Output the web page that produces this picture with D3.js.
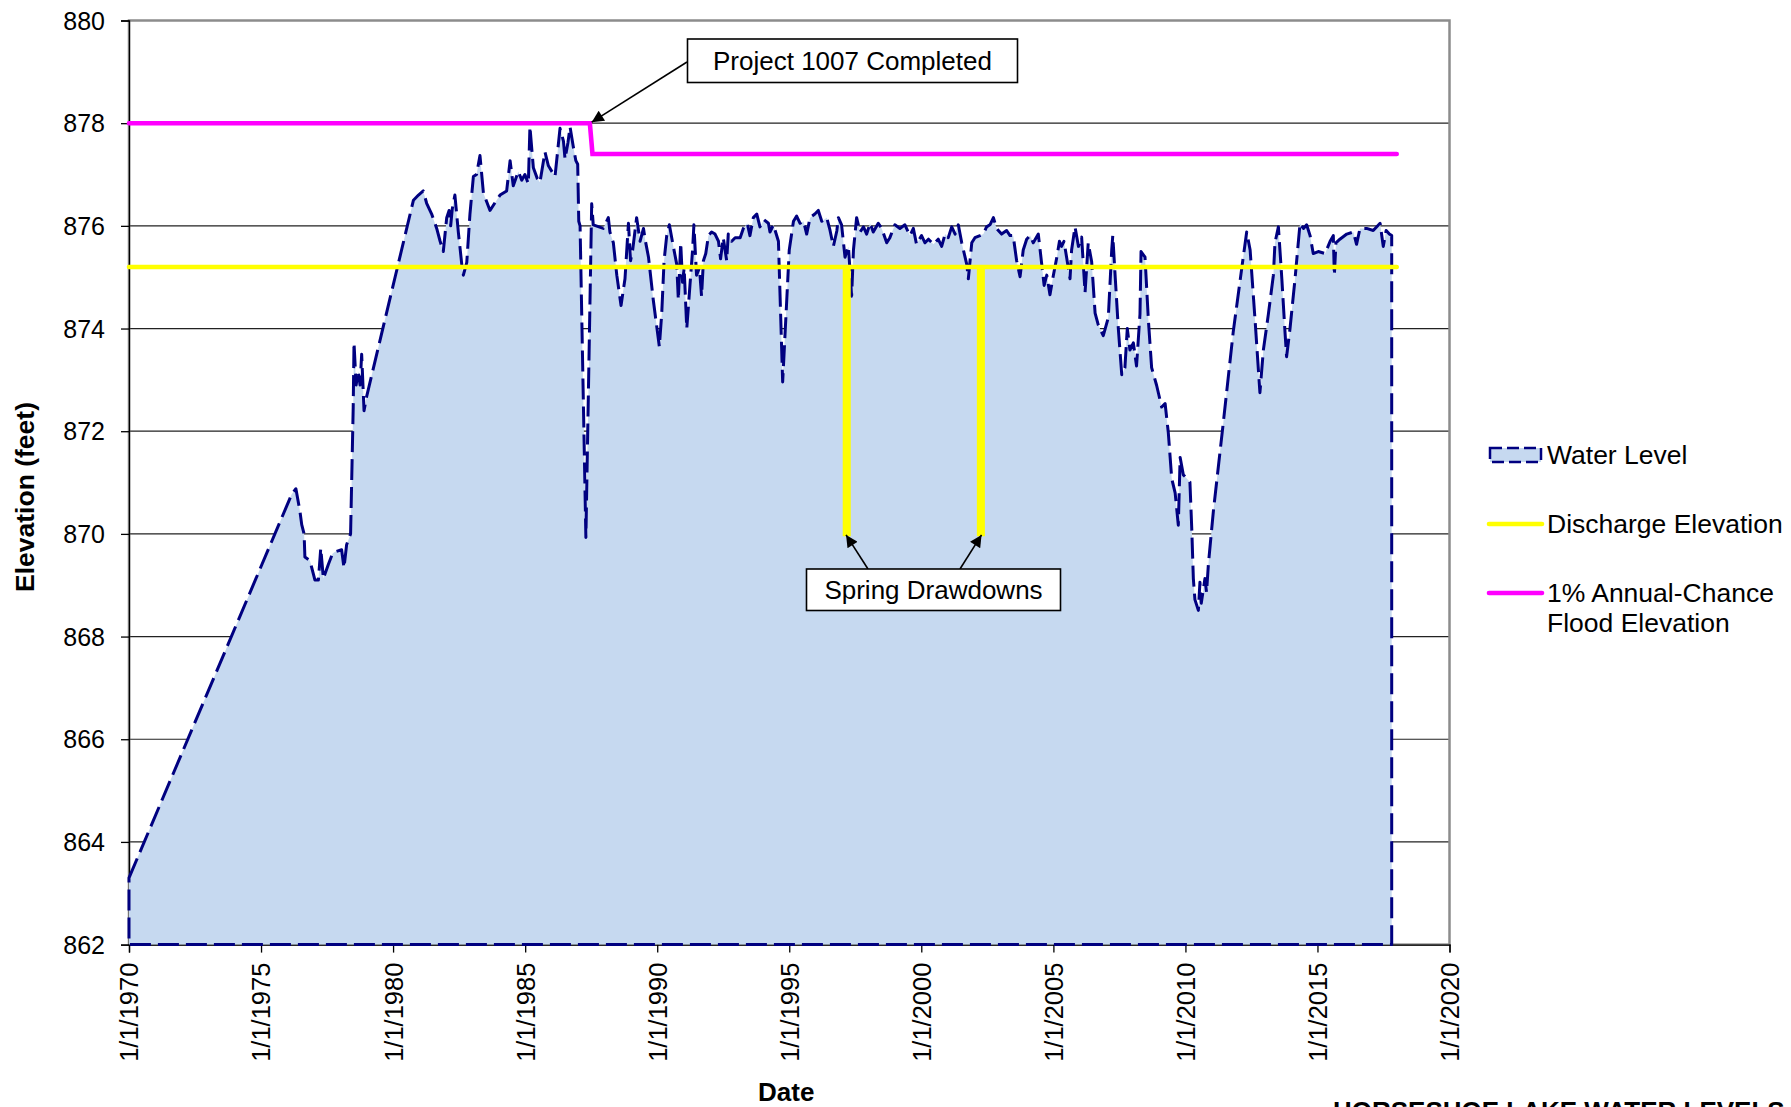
<!DOCTYPE html>
<html>
<head>
<meta charset="utf-8">
<script src="https://cdn.jsdelivr.net/npm/d3@7"></script>
<style>
  body { margin: 0; background: #fff; }
  svg { display: block; }
  text { font-family: "Liberation Sans", Arial, sans-serif; fill: #000; }
</style>
</head>
<body>
<svg></svg>
<script>
// Water level readings (decimal year, elevation in feet)
const waterYear = [
  1970.00, 1976.16, 1976.32, 1976.47, 1976.54, 1976.63, 1976.66, 1976.85, 1977.04, 1977.17,
  1977.26, 1977.36, 1977.55, 1977.71, 1977.80, 1978.05, 1978.14, 1978.24, 1978.39, 1978.49,
  1978.52, 1978.60, 1978.68, 1978.75, 1978.81, 1978.90, 1979.00, 1980.77, 1980.96, 1981.14,
  1981.27, 1981.46, 1981.65, 1981.78, 1981.90, 1982.03, 1982.12, 1982.18, 1982.24, 1982.34,
  1982.47, 1982.60, 1982.66, 1982.79, 1982.91, 1983.04, 1983.16, 1983.29, 1983.42, 1983.67,
  1983.92, 1984.05, 1984.30, 1984.43, 1984.55, 1984.74, 1984.87, 1984.99, 1985.12, 1985.18,
  1985.31, 1985.46, 1985.56, 1985.75, 1985.88, 1986.13, 1986.32, 1986.45, 1986.51, 1986.62,
  1986.70, 1986.82, 1986.92, 1986.99, 1987.03, 1987.08, 1987.30, 1987.52, 1987.58, 1987.96,
  1988.15, 1988.21, 1988.34, 1988.47, 1988.63, 1988.78, 1988.91, 1988.99, 1989.07, 1989.22,
  1989.35, 1989.48, 1989.54, 1989.67, 1989.85, 1990.08, 1990.17, 1990.26, 1990.36, 1990.46,
  1990.61, 1990.74, 1990.80, 1990.89, 1990.96, 1991.02, 1991.12, 1991.24, 1991.34, 1991.39,
  1991.49, 1991.60, 1991.68, 1991.75, 1991.84, 1991.94, 1992.06, 1992.19, 1992.32, 1992.40,
  1992.50, 1992.63, 1992.69, 1992.82, 1992.95, 1993.14, 1993.26, 1993.41, 1993.51, 1993.64,
  1993.77, 1993.89, 1994.04, 1994.21, 1994.27, 1994.40, 1994.59, 1994.75, 1995.00, 1995.16,
  1995.28, 1995.41, 1995.54, 1995.66, 1995.79, 1995.97, 1996.10, 1996.23, 1996.42, 1996.54,
  1996.67, 1996.80, 1996.86, 1996.98, 1997.11, 1997.24, 1997.36, 1997.43, 1997.55, 1997.68,
  1997.81, 1997.93, 1998.06, 1998.18, 1998.37, 1998.50, 1998.69, 1998.81, 1999.00, 1999.19,
  1999.38, 1999.57, 1999.70, 1999.82, 2000.01, 2000.14, 2000.27, 2000.46, 2000.64, 2000.77,
  2000.90, 2001.02, 2001.15, 2001.28, 2001.40, 2001.53, 2001.72, 2001.78, 2001.91, 2002.03,
  2002.22, 2002.35, 2002.47, 2002.60, 2002.73, 2002.85, 2003.04, 2003.23, 2003.36, 2003.48,
  2003.61, 2003.74, 2003.86, 2003.99, 2004.12, 2004.24, 2004.43, 2004.56, 2004.65, 2004.75,
  2004.87, 2005.00, 2005.13, 2005.23, 2005.31, 2005.40, 2005.50, 2005.63, 2005.69, 2005.82,
  2005.95, 2006.07, 2006.20, 2006.32, 2006.45, 2006.58, 2006.70, 2006.89, 2007.08, 2007.21,
  2007.25, 2007.33, 2007.46, 2007.59, 2007.71, 2007.80, 2007.90, 2008.03, 2008.15, 2008.28,
  2008.32, 2008.47, 2008.60, 2008.72, 2008.91, 2009.10, 2009.23, 2009.35, 2009.48, 2009.61,
  2009.73, 2009.80, 2009.92, 2010.05, 2010.17, 2010.24, 2010.30, 2010.36, 2010.49, 2010.55,
  2010.60, 2010.74, 2010.80, 2010.87, 2011.06, 2011.44, 2011.81, 2012.19, 2012.32, 2012.45,
  2012.64, 2012.82, 2012.95, 2013.14, 2013.33, 2013.39, 2013.52, 2013.65, 2013.77, 2013.83,
  2013.96, 2014.15, 2014.34, 2014.47, 2014.59, 2014.72, 2014.84, 2015.03, 2015.29, 2015.48,
  2015.60, 2015.64, 2015.70, 2015.85, 2016.11, 2016.36, 2016.48, 2016.61, 2016.86, 2017.11,
  2017.37, 2017.49, 2017.60, 2017.72, 2017.81
];
const waterLevel = [
  863.30, 870.77, 870.88, 870.45, 870.18, 870.00, 869.55, 869.48, 869.10, 869.10,
  869.72, 869.13, 869.41, 869.62, 869.65, 869.69, 869.34, 869.79, 870.00, 872.47,
  873.72, 872.90, 873.17, 872.90, 873.50, 872.40, 872.68, 876.50, 876.60, 876.68,
  876.44, 876.23, 875.95, 875.70, 875.50, 876.16, 876.30, 876.00, 876.33, 876.60,
  875.88, 875.25, 875.04, 875.29, 876.23, 876.96, 877.00, 877.37, 876.64, 876.30,
  876.50, 876.60, 876.68, 877.27, 876.78, 877.06, 876.89, 877.00, 876.82, 877.93,
  877.13, 876.92, 876.85, 877.44, 877.17, 876.96, 877.90, 877.65, 877.30, 877.62,
  877.93, 877.55, 877.27, 877.20, 876.09, 876.00, 869.93, 876.43, 876.02, 875.95,
  876.16, 875.88, 875.67, 875.04, 874.45, 874.97, 876.05, 875.32, 875.53, 876.16,
  875.70, 875.95, 875.74, 875.39, 874.56, 873.65, 874.28, 875.32, 875.81, 876.02,
  875.60, 875.25, 874.56, 875.67, 874.90, 875.18, 874.00, 874.84, 875.53, 876.02,
  875.04, 875.18, 874.63, 875.32, 875.46, 875.81, 875.88, 875.84, 875.70, 875.36,
  875.77, 875.32, 875.84, 875.70, 875.77, 875.77, 875.95, 876.05, 875.81, 876.16,
  876.23, 875.98, 876.12, 876.05, 875.88, 876.02, 875.70, 872.96, 875.53, 876.09,
  876.19, 876.05, 876.09, 875.84, 876.16, 876.23, 876.30, 876.09, 876.16, 875.92,
  875.60, 875.90, 876.16, 876.02, 875.39, 875.60, 874.63, 875.53, 876.16, 875.88,
  875.98, 875.84, 876.05, 875.88, 876.05, 875.95, 875.67, 875.77, 876.02, 875.95,
  876.02, 875.81, 875.95, 875.64, 875.81, 875.67, 875.74, 875.64, 875.74, 875.60,
  875.84, 875.77, 875.98, 875.84, 876.02, 875.67, 875.25, 874.97, 875.67, 875.77,
  875.81, 875.84, 875.98, 876.02, 876.16, 875.95, 875.84, 875.91, 875.81, 875.81,
  875.32, 875.01, 875.53, 875.74, 875.81, 875.67, 875.84, 875.25, 874.84, 875.04,
  874.66, 875.04, 875.39, 875.70, 875.60, 875.70, 875.39, 874.97, 875.53, 875.98,
  875.60, 875.78, 874.70, 875.67, 875.30, 874.30, 874.07, 873.86, 874.21, 875.53,
  875.81, 875.11, 874.00, 873.10, 873.24, 874.00, 873.58, 873.72, 873.27, 874.28,
  875.50, 875.39, 874.14, 873.24, 872.89, 872.47, 872.54, 871.98, 871.08, 870.80,
  870.17, 871.49, 871.15, 871.08, 871.01, 870.10, 869.13, 868.72, 868.51, 869.06,
  868.65, 869.13, 868.86, 869.41, 870.45, 872.19, 873.93, 875.39, 875.88, 875.53,
  874.14, 872.75, 873.58, 874.28, 875.04, 875.67, 875.98, 874.97, 873.93, 873.45,
  874.00, 874.97, 876.05, 875.95, 876.02, 875.81, 875.46, 875.50, 875.46, 875.70,
  875.81, 875.04, 875.67, 875.74, 875.84, 875.88, 875.64, 875.95, 875.95, 875.91,
  876.05, 875.60, 875.91, 875.84, 875.81
];

// Discharge elevation (with the two spring drawdowns)
const dischargeYear = [1970, 1997.11, 1997.11, 1997.24, 1997.24, 2002.19, 2002.19, 2002.32, 2002.32, 2018];
const dischargeLevel = [875.2, 875.2, 870, 870, 875.2, 875.2, 870, 870, 875.2, 875.2];

// 1% annual-chance flood elevation
const floodYear = [1970, 1987.45, 1987.55, 2018];
const floodLevel = [878, 878, 877.4, 877.4];

const yTicks = [862, 864, 866, 868, 870, 872, 874, 876, 878, 880];
const xTickYears = [1970, 1975, 1980, 1985, 1990, 1995, 2000, 2005, 2010, 2015, 2020];

const width = 1791;
const height = 1107;
const plot = { left: 129, right: 1449.5, top: 20.5, bottom: 944.6 };

function toDate(y) {
  const yr = Math.floor(y);
  const a = Date.UTC(yr, 0, 1), b = Date.UTC(yr + 1, 0, 1);
  return new Date(a + (y - yr) * (b - a));
}

const svg = d3.select("svg").attr("width", width).attr("height", height);

const x = d3.scaleUtc()
  .domain([toDate(1970), toDate(2020)])
  .range([plot.left, plot.right]);
const y = d3.scaleLinear()
  .domain([862, 880])
  .range([plot.bottom, plot.top]);

const water = waterYear.map((d, i) => ({ date: toDate(d), v: waterLevel[i] }));
const discharge = dischargeYear.map((d, i) => ({ date: toDate(d), v: dischargeLevel[i] }));
const flood = floodYear.map((d, i) => ({ date: toDate(d), v: floodLevel[i] }));

// arrow marker
svg.append("defs").append("marker")
  .attr("id", "arrow")
  .attr("viewBox", "0 0 10 10")
  .attr("refX", 10).attr("refY", 5)
  .attr("markerUnits", "userSpaceOnUse")
  .attr("markerWidth", 16).attr("markerHeight", 12)
  .attr("orient", "auto")
  .append("path").attr("d", "M0,0 L10,5 L0,10 z").attr("fill", "#000");

// gridlines
svg.append("g")
  .selectAll("line")
  .data(yTicks.filter(t => t > 862 && t < 880))
  .join("line")
  .attr("x1", plot.left).attr("x2", plot.right)
  .attr("y1", d => y(d)).attr("y2", d => y(d))
  .attr("stroke", "#222").attr("stroke-width", 1.2);

// plot border
svg.append("rect")
  .attr("x", plot.left).attr("y", plot.top)
  .attr("width", plot.right - plot.left).attr("height", plot.bottom - plot.top)
  .attr("fill", "none").attr("stroke", "#8c8c8c").attr("stroke-width", 2.5);

// axes
const yAxis = svg.append("g").attr("transform", `translate(${plot.left},0)`)
  .call(d3.axisLeft(y).tickValues(yTicks).tickSize(8).tickFormat(d3.format("d")));
yAxis.select(".domain").attr("stroke", "#000").attr("stroke-width", 1.3);
yAxis.selectAll(".tick line").attr("stroke", "#000").attr("stroke-width", 1.3);
yAxis.selectAll(".tick text")
  .attr("x", -24).attr("dy", "0.35em")
  .style("font-size", "25px").style("font-family", '"Liberation Sans", Arial, sans-serif');

const xAxis = svg.append("g").attr("transform", `translate(0,${plot.bottom})`)
  .call(d3.axisBottom(x).tickValues(xTickYears.map(toDate)).tickSize(8)
    .tickFormat(d => "1/1/" + d.getUTCFullYear()));
xAxis.select(".domain").attr("stroke", "#000").attr("stroke-width", 1.3);
xAxis.selectAll(".tick line").attr("stroke", "#000").attr("stroke-width", 1.3);
xAxis.selectAll(".tick text")
  .attr("transform", "translate(0,18) rotate(-90)")
  .attr("x", 0).attr("y", 0).attr("dy", "0.35em")
  .attr("text-anchor", "end")
  .style("font-size", "25.5px").style("font-family", '"Liberation Sans", Arial, sans-serif');

// water level area
const area = d3.area()
  .x(d => x(d.date))
  .y0(y(862))
  .y1(d => y(d.v));
svg.append("path")
  .datum(water)
  .attr("d", area)
  .attr("fill", "#c6d9f0")
  .attr("stroke", "#000080")
  .attr("stroke-width", 3)
  .attr("stroke-dasharray", "21,7")
  .attr("stroke-linejoin", "round");

const line = d3.line().x(d => x(d.date)).y(d => y(d.v));

svg.append("path")
  .datum(discharge)
  .attr("d", line)
  .attr("fill", "none")
  .attr("stroke", "#ffff00")
  .attr("stroke-width", 4.6)
  .attr("stroke-linecap", "round");

svg.append("path")
  .datum(flood)
  .attr("d", line)
  .attr("fill", "none")
  .attr("stroke", "#ff00ff")
  .attr("stroke-width", 4.6)
  .attr("stroke-linecap", "round");

// annotations
function box(x0, y0, w, h, label) {
  svg.append("rect").attr("x", x0).attr("y", y0).attr("width", w).attr("height", h)
    .attr("fill", "#fff").attr("stroke", "#000").attr("stroke-width", 1.6);
  svg.append("text").attr("x", x0 + w / 2).attr("y", y0 + h / 2).attr("dy", "0.35em")
    .attr("text-anchor", "middle").style("font-size", "26px").text(label);
}
function arrow(x1, y1, x2, y2) {
  svg.append("line").attr("x1", x1).attr("y1", y1).attr("x2", x2).attr("y2", y2)
    .attr("stroke", "#000").attr("stroke-width", 1.6).attr("marker-end", "url(#arrow)");
}

arrow(687, 62, x(toDate(1987.52)), y(878) - 1);
box(687.5, 39, 330, 43.5, "Project 1007 Completed");

arrow(868, 569, x(toDate(1997.15)), y(870) + 1);
arrow(960, 569, x(toDate(2002.28)), y(870) + 1);
box(806.5, 569, 254, 41.5, "Spring Drawdowns");

// legend
const lx = 1489, lw = 53, tx = 1547;
svg.append("rect").attr("x", lx + 1).attr("y", 448).attr("width", lw - 2).attr("height", 14)
  .attr("fill", "#c6d9f0").attr("stroke", "#000080").attr("stroke-width", 2.5)
  .attr("stroke-dasharray", "12,5");
svg.append("line").attr("x1", lx).attr("x2", lx + lw).attr("y1", 524).attr("y2", 524)
  .attr("stroke", "#ffff00").attr("stroke-width", 4.6).attr("stroke-linecap", "round");
svg.append("line").attr("x1", lx).attr("x2", lx + lw).attr("y1", 593).attr("y2", 593)
  .attr("stroke", "#ff00ff").attr("stroke-width", 4.6).attr("stroke-linecap", "round");

const legendText = [
  ["Water Level", 455],
  ["Discharge Elevation", 524],
  ["1% Annual-Chance", 593],
  ["Flood Elevation", 623]
];
svg.append("g").selectAll("text").data(legendText).join("text")
  .attr("x", tx).attr("y", d => d[1]).attr("dy", "0.35em")
  .style("font-size", "26.5px").text(d => d[0]);

// axis titles
svg.append("text")
  .attr("transform", "translate(34,497) rotate(-90)")
  .attr("text-anchor", "middle")
  .style("font-size", "26.5px").style("font-weight", "bold")
  .text("Elevation (feet)");

svg.append("text")
  .attr("x", (plot.left + plot.right) / 2 - 3).attr("y", 1101)
  .attr("text-anchor", "middle")
  .style("font-size", "26px").style("font-weight", "bold")
  .text("Date");

// chart title sits at the bottom edge, partly cut off as in the original
svg.append("text")
  .attr("x", 1333).attr("y", 1120)
  .style("font-size", "26px").style("font-weight", "bold")
  .text("HORSESHOE LAKE WATER LEVELS");
</script>
</body>
</html>
